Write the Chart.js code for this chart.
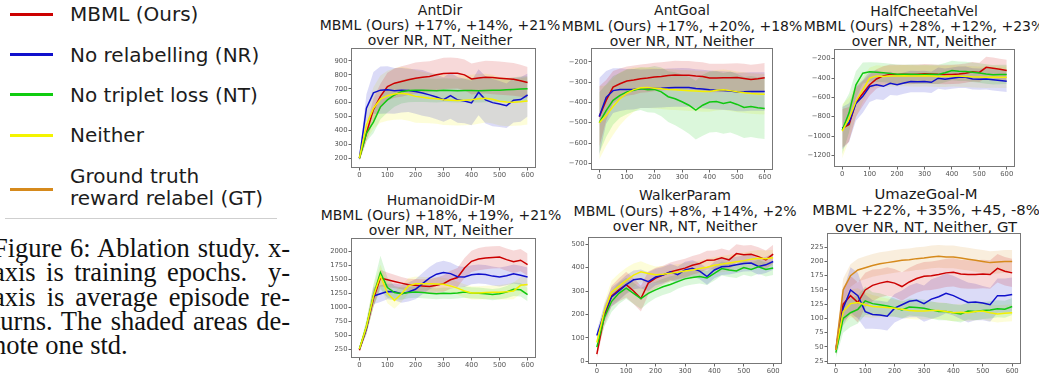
<!DOCTYPE html>
<html><head><meta charset="utf-8">
<script src="https://cdn.jsdelivr.net/npm/chart.js@4.4.1/dist/chart.umd.min.js"></script>
<style>
html,body{margin:0;padding:0;background:#fff;width:1039px;height:379px;overflow:hidden;position:relative;}
.leg-line{position:absolute;left:10px;width:43px;height:3px;}
.leg-text{position:absolute;left:70px;font-family:'DejaVu Sans';font-size:20px;color:#1c1c1c;line-height:22px;white-space:nowrap;}
.sep{position:absolute;left:5px;width:272px;top:218px;height:1px;background:#cfcfcf;}
.cap{position:absolute;left:-7px;width:297px;font-family:'Liberation Serif';font-size:26.5px;line-height:24px;color:#111;text-align:justify;text-align-last:justify;white-space:nowrap;}
.cap.last{text-align:left;text-align-last:left;}
.ttl{position:absolute;font-family:'DejaVu Sans';font-size:14px;line-height:15px;text-align:center;color:#1a1a1a;white-space:nowrap;transform:translateX(-50%);}
canvas{position:absolute;}
</style></head><body>

<div class="leg-line" style="top:12.5px;background:#cc0000"></div>
<div class="leg-text" style="top:3px">MBML (Ours)</div>
<div class="leg-line" style="top:52.5px;background:#1010cc"></div>
<div class="leg-text" style="top:44px">No relabelling (NR)</div>
<div class="leg-line" style="top:92.5px;background:#10cc10"></div>
<div class="leg-text" style="top:84px">No triplet loss (NT)</div>
<div class="leg-line" style="top:133.5px;background:#f4f400"></div>
<div class="leg-text" style="top:124px">Neither</div>
<div class="leg-line" style="top:187.5px;background:#d68a1c"></div>
<div class="leg-text" style="top:165px">Ground truth</div>
<div class="leg-text" style="top:187px">reward relabel (GT)</div>
<div class="sep"></div>

<div class="cap" style="top:236px">Figure 6: Ablation study. x-</div>
<div class="cap" style="top:260px">axis is training epochs.&nbsp; y-</div>
<div class="cap" style="top:285px">axis is average episode re-</div>
<div class="cap" style="top:309px">turns. The shaded areas de-</div>
<div class="cap last" style="top:333px">note one std.</div>

<div class="ttl" style="left:440px;top:3px">AntDir<br>MBML (Ours) +17%, +14%, +21%<br>over NR, NT, Neither</div>
<div class="ttl" style="left:682px;top:3px;line-height:15.5px">AntGoal<br>MBML (Ours) +17%, +20%, +18%<br>over NR, NT, Neither</div>
<div class="ttl" style="left:924px;top:4px">HalfCheetahVel<br>MBML (Ours) +28%, +12%, +23%<br>over NR, NT, Neither</div>
<div class="ttl" style="left:441px;top:193px">HumanoidDir-M<br>MBML (Ours) +18%, +19%, +21%<br>over NR, NT, Neither</div>
<div class="ttl" style="left:685px;top:188px;line-height:15.5px">WalkerParam<br>MBML (Ours) +8%, +14%, +2%<br>over NR, NT, Neither</div>
<div class="ttl" style="left:926px;top:185.5px;line-height:16.5px;font-size:14.8px">UmazeGoal-M<br>MBML +22%, +35%, +45, -8%<br>over NR, NT, Neither, GT</div>

<script>
// ---------- data ----------
const epochs = [0,25,50,75,100,125,150,175,200,225,250,275,300,325,350,375,400,425,450,475,500,525,550,575,600];
const xTicks = [0,100,200,300,400,500,600];

// AntDir
const antDirYTicks = [200,300,400,500,600,700,800,900];
const antDirMBML = [200,380,550,645,715,740,752,765,776,782,788,800,810,812,811,800,770,778,783,780,776,772,768,758,745];
const antDirNR = [200,560,670,690,692,685,690,688,680,670,656,640,622,650,620,612,598,675,620,600,590,578,618,622,655];
const antDirNT = [200,380,460,570,620,655,678,688,690,690,688,686,690,688,686,688,688,686,688,690,690,692,695,698,700];
const antDirNeither = [200,440,560,625,650,662,668,660,645,638,632,628,620,618,615,618,620,628,632,625,610,605,603,606,612];
const antDirMBMLStd = [20,60,80,90,100,105,110,110,112,112,110,110,112,112,110,110,112,115,118,120,120,118,118,115,112];
const antDirNRStd = [20,100,150,170,170,165,160,155,160,165,160,160,160,165,165,160,160,165,170,170,165,160,160,160,155];
const antDirNTStd = [20,60,80,90,90,85,85,85,85,85,85,85,85,85,85,85,85,85,85,85,85,85,88,90,90];
const antDirNeitherStd = [20,110,150,170,180,185,190,190,190,185,180,180,180,180,180,180,180,180,175,175,175,175,170,170,170];

// AntGoal
const antGoalYTicks = [-700,-600,-500,-400,-300,-200];
const antGoalMBML = [-470,-390,-325,-308,-295,-290,-283,-280,-275,-272,-268,-265,-266,-266,-270,-272,-280,-280,-279,-278,-277,-282,-287,-283,-278];
const antGoalNR = [-470,-375,-342,-337,-336,-335,-333,-332,-331,-330,-328,-327,-326,-327,-332,-334,-338,-340,-341,-344,-349,-348,-346,-346,-346];
const antGoalNT = [-500,-440,-390,-365,-348,-340,-332,-338,-336,-348,-372,-382,-397,-414,-438,-414,-398,-396,-405,-398,-410,-425,-420,-426,-430];
const antGoalNeither = [-500,-465,-420,-382,-355,-337,-328,-327,-330,-333,-336,-338,-340,-342,-344,-346,-346,-340,-338,-342,-348,-352,-356,-358,-360];
const antGoalMBMLStd = [150,100,80,75,72,72,70,70,70,70,70,70,70,70,70,70,70,70,70,70,70,72,72,72,72];
const antGoalNRStd = [190,130,110,105,100,100,95,95,95,95,95,95,95,95,95,95,95,95,95,95,95,95,95,95,95];
const antGoalNTStd = [150,130,120,110,110,105,105,110,115,120,125,130,135,140,145,150,150,150,150,150,150,150,150,150,150];
const antGoalNeitherStd = [180,150,140,130,120,110,100,100,100,100,100,100,100,100,100,100,100,100,100,100,100,100,100,100,100];

// HalfCheetahVel
const cheetahYTicks = [-1200,-1000,-800,-600,-400,-200];
const cheetahMBML = [-920,-880,-650,-560,-470,-410,-378,-360,-363,-362,-364,-360,-356,-358,-362,-364,-363,-358,-350,-335,-342,-290,-298,-310,-322];
const cheetahNR = [-920,-860,-662,-590,-488,-470,-486,-455,-470,-452,-436,-438,-436,-444,-402,-412,-402,-392,-392,-410,-412,-410,-418,-426,-434];
const cheetahNT = [-940,-760,-470,-350,-336,-340,-345,-352,-360,-362,-360,-363,-363,-362,-363,-345,-322,-330,-332,-340,-348,-358,-366,-364,-363];
const cheetahNeither = [-950,-820,-640,-520,-400,-378,-384,-380,-378,-376,-378,-380,-377,-380,-384,-382,-378,-380,-384,-388,-390,-392,-390,-392,-392];
const cheetahMBMLStd = [200,180,150,130,110,100,100,100,100,100,100,100,100,100,100,100,100,100,100,100,100,110,110,110,110];
const cheetahNRStd = [220,200,180,170,160,150,140,120,110,110,110,110,110,110,110,110,110,110,110,110,110,110,110,110,110];
const cheetahNTStd = [250,200,140,110,100,100,100,100,100,100,100,100,100,100,100,100,100,100,100,100,100,100,100,100,100];
const cheetahNeitherStd = [280,220,170,130,110,110,110,110,110,110,110,110,110,110,110,110,110,110,110,110,110,110,110,110,110];

// HumanoidDir-M
const humanoidYTicks = [250,500,750,1000,1250,1500,1750,2000];
const humanoidMBML = [230,620,1150,1520,1490,1460,1430,1400,1392,1380,1370,1390,1420,1490,1530,1700,1820,1860,1880,1890,1895,1850,1812,1840,1760];
const humanoidNR = [250,620,1200,1240,1280,1275,1240,1270,1320,1420,1520,1590,1620,1600,1545,1540,1580,1595,1585,1555,1540,1560,1595,1570,1540];
const humanoidNT = [250,650,1200,1620,1350,1260,1240,1260,1270,1260,1250,1240,1250,1245,1255,1270,1255,1250,1240,1225,1240,1270,1320,1310,1225];
const humanoidNeither = [250,650,1200,1560,1250,1120,1240,1380,1420,1420,1420,1415,1408,1380,1340,1290,1255,1255,1262,1265,1268,1275,1290,1390,1405];
const humanoidMBMLStd = [30,100,150,150,130,120,110,110,110,120,130,140,150,160,170,180,190,200,200,200,200,200,200,200,200];
const humanoidNRStd = [30,100,150,150,140,150,160,170,180,190,200,210,210,200,190,180,170,170,170,170,170,170,170,170,170];
const humanoidNTStd = [30,120,200,300,180,120,110,100,100,100,100,100,100,100,100,100,100,100,100,100,100,110,120,120,120];
const humanoidNeitherStd = [30,120,200,200,180,150,150,140,130,120,120,120,120,120,120,120,120,120,120,120,130,140,150,150,150];

// WalkerParam
const walkerYTicks = [0,100,200,300,400,500];
const walkerMBML = [30,190,278,305,327,300,268,334,355,368,382,390,398,410,418,432,433,442,433,460,455,457,447,433,458];
const walkerNR = [110,205,275,300,327,348,352,340,360,368,382,370,390,397,385,362,390,404,406,412,418,420,405,412,426];
const walkerNT = [60,185,255,290,312,290,268,290,305,318,328,340,352,358,362,356,375,396,390,386,400,392,404,392,398];
const walkerNeither = [80,210,295,320,345,368,382,375,370,372,376,380,386,390,396,402,410,415,420,425,430,436,440,438,442];
const walkerMBMLStd = [20,40,45,50,55,55,55,50,45,40,40,40,40,40,40,40,40,40,40,40,40,40,40,40,40];
const walkerNRStd = [20,35,40,40,40,40,40,40,35,35,35,35,35,35,35,35,35,35,35,35,35,35,35,35,35];
const walkerNTStd = [20,40,45,45,45,45,45,40,35,35,35,30,30,30,30,30,30,30,30,30,30,30,30,30,30];
const walkerNeitherStd = [20,40,50,55,55,50,45,40,35,35,35,35,35,35,35,35,35,35,35,35,35,35,35,35,35];

// UmazeGoal-M
const umazeYTicks = [25,50,75,100,125,150,175,200,225];
const umazeMBML = [45,125,140,128,150,158,162,165,162,156,164,170,174,175,177,180,181,178,177,177,178,177,188,183,180];
const umazeNR = [45,118,150,140,112,107,106,104,118,124,130,132,126,134,138,144,140,134,128,129,127,124,140,140,142];
const umazeNT = [40,100,110,116,131,126,124,122,119,115,120,119,118,115,112,112,110,108,113,112,114,115,117,116,121];
const umazeNeither = [45,112,126,128,124,121,120,119,118,116,114,113,113,114,114,112,110,111,110,112,113,110,108,109,110];
const umazeGT = [45,150,175,185,189,193,196,198,200,202,203,205,206,208,209,208,208,206,204,202,200,198,199,200,200];
const umazeMBMLStd = [10,30,35,35,30,28,25,25,25,25,25,25,25,25,25,25,25,25,25,25,25,25,25,25,25];
const umazeNRStd = [10,30,40,40,30,25,25,25,25,25,28,30,32,35,35,35,35,35,35,32,30,30,30,30,30];
const umazeNTStd = [10,25,25,25,25,20,20,18,16,15,15,15,15,15,15,15,15,15,15,15,15,15,15,15,15];
const umazeNeitherStd = [10,25,25,25,22,20,18,16,15,15,15,15,15,15,15,15,15,15,15,15,15,15,15,15,15];
const umazeGTStd = [10,20,20,20,20,20,20,20,20,20,20,20,20,20,20,20,20,20,20,20,20,20,20,20,20];

// ---------- styles ----------
const COL = {
  MBML: [204,0,0],
  NR: [16,16,204],
  NT: [16,200,16],
  Neither: [244,240,0],
  GT: [214,138,28]
};
const rgba = (c,a) => `rgba(${c[0]},${c[1]},${c[2]},${a})`;

const plots = [
  {L:351,T:48,R:536,B:168,yMin:130,yMax:993,yTicks:antDirYTicks,
   series:[['MBML',antDirMBML,antDirMBMLStd],['NR',antDirNR,antDirNRStd],['NT',antDirNT,antDirNTStd],['Neither',antDirNeither,antDirNeitherStd]]},
  {L:591,T:48,R:773,B:170,yMin:-733,yMax:-132,yTicks:antGoalYTicks,
   series:[['MBML',antGoalMBML,antGoalMBMLStd],['NR',antGoalNR,antGoalNRStd],['NT',antGoalNT,antGoalNTStd],['Neither',antGoalNeither,antGoalNeitherStd]]},
  {L:834,T:49,R:1015,B:167,yMin:-1320,yMax:-100,yTicks:cheetahYTicks,
   series:[['MBML',cheetahMBML,cheetahMBMLStd],['NR',cheetahNR,cheetahNRStd],['NT',cheetahNT,cheetahNTStd],['Neither',cheetahNeither,cheetahNeitherStd]]},
  {L:351,T:238,R:536,B:358,yMin:90,yMax:2237,yTicks:humanoidYTicks,
   series:[['MBML',humanoidMBML,humanoidMBMLStd],['NR',humanoidNR,humanoidNRStd],['NT',humanoidNT,humanoidNTStd],['Neither',humanoidNeither,humanoidNeitherStd]]},
  {L:588,T:237,R:782,B:364,yMin:-12,yMax:531,yTicks:walkerYTicks,
   series:[['MBML',walkerMBML,walkerMBMLStd],['NR',walkerNR,walkerNRStd],['NT',walkerNT,walkerNTStd],['Neither',walkerNeither,walkerNeitherStd]]},
  {L:827,T:233,R:1021,B:364,yMin:20,yMax:250,yTicks:umazeYTicks,
   series:[['MBML',umazeMBML,umazeMBMLStd],['NR',umazeNR,umazeNRStd],['NT',umazeNT,umazeNTStd],['Neither',umazeNeither,umazeNeitherStd],['GT',umazeGT,umazeGTStd]]}
];

const framePlugin = {
  id:'frame',
  afterDatasetsDraw(chart){
    const a = chart.chartArea, c = chart.ctx;
    c.save();
    c.strokeStyle = '#777';
    c.lineWidth = 1;
    c.strokeRect(Math.round(a.left)+0.5, Math.round(a.top)+0.5, Math.round(a.right-a.left)-1, Math.round(a.bottom-a.top)-1);
    c.restore();
  }
};

const fmt = v => (v < 0 ? '\u2212' + Math.abs(v) : String(v));
const tickFont = {family:'DejaVu Sans', size:6.8};

const PADL = 40, PADT = 8, PADR = 8, PADB = 2, YW = 34, XH = 12;

plots.forEach(p => {
  const W = p.R - p.L, H = p.B - p.T;
  const cv = document.createElement('canvas');
  cv.width = W + PADL + PADR;
  cv.height = H + PADT + XH + PADB;
  cv.style.left = (p.L - PADL) + 'px';
  cv.style.top = (p.T - PADT) + 'px';
  cv.style.width = cv.width + 'px';
  cv.style.height = cv.height + 'px';
  document.body.appendChild(cv);

  const datasets = [];
  p.series.forEach(([key, mean, std]) => {
    const c = COL[key];
    datasets.push({
      data: epochs.map((e,j) => ({x:e, y:mean[j] + std[j]})),
      borderWidth:0, pointRadius:0, fill:false, order:100, borderColor:'rgba(0,0,0,0)'
    });
    datasets.push({
      data: epochs.map((e,j) => ({x:e, y:mean[j] - std[j]})),
      borderWidth:0, pointRadius:0, fill:'-1', order:100,
      borderColor:'rgba(0,0,0,0)', backgroundColor: rgba(c, 0.15)
    });
  });
  p.series.forEach(([key, mean], i) => {
    const c = COL[key];
    datasets.push({
      data: epochs.map((e,j) => ({x:e, y:mean[j]})),
      borderColor: rgba(c,1), borderWidth:1.5, pointRadius:0, fill:false,
      tension:0, order: 10 - i
    });
  });

  new Chart(cv, {
    type:'line',
    data:{datasets},
    plugins:[framePlugin],
    options:{
      responsive:false, animation:false, devicePixelRatio:1,
      layout:{padding:{left:PADL-YW, top:PADT, right:PADR, bottom:PADB}},
      plugins:{legend:{display:false}, tooltip:{enabled:false}, title:{display:false}},
      scales:{
        x:{type:'linear', min:-30, max:630,
           afterBuildTicks: s => { s.ticks = xTicks.map(v => ({value:v})); },
           afterFit: s => { s.height = XH; },
           ticks:{font:tickFont, color:'#555', padding:1, maxRotation:0, autoSkip:false, callback: v => fmt(v)},
           grid:{display:true, drawOnChartArea:false, drawTicks:true, tickLength:2.5, color:'#666'},
           border:{display:false}},
        y:{type:'linear', min:p.yMin, max:p.yMax,
           afterBuildTicks: s => { s.ticks = p.yTicks.map(v => ({value:v})); },
           afterFit: s => { s.width = YW; },
           ticks:{font:tickFont, color:'#555', padding:1, autoSkip:false, callback: v => fmt(v)},
           grid:{display:true, drawOnChartArea:false, drawTicks:true, tickLength:2.5, color:'#666'},
           border:{display:false}}
      }
    }
  });
});
</script>
</body></html>
